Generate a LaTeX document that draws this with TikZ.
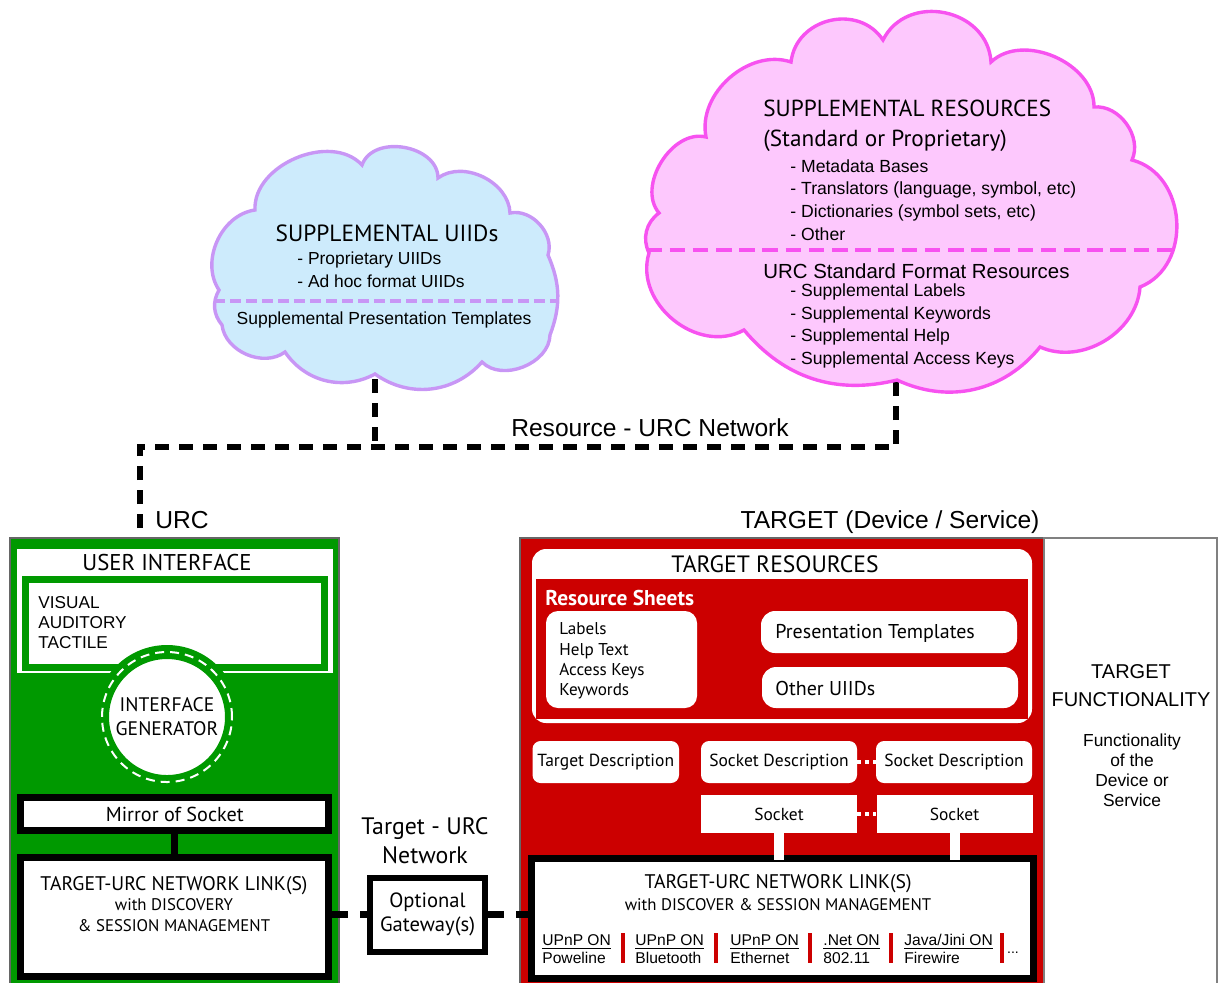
\documentclass[tikz,border=0pt]{standalone}
\usepackage{fontspec}
\newfontfamily\myr{PT Sans}
\newfontfamily\ari{Liberation Sans}
\usetikzlibrary{calc,positioning}
\definecolor{urcgreen}{RGB}{0,153,0}
\definecolor{tgtred}{RGB}{204,0,0}
\definecolor{uiidfill}{RGB}{205,235,252}
\definecolor{uiidline}{RGB}{200,150,245}
\definecolor{resfill}{RGB}{253,200,253}
\definecolor{resline}{RGB}{247,82,240}
\tikzset{
  myrf/.style 2 args={font={\myr\fontsize{#1}{#2}\selectfont}, inner sep=0pt},
  arif/.style 2 args={font={\ari\fontsize{#1}{#2}\selectfont}, inner sep=0pt},
  box/.style={draw=black, line width=3.5pt, fill=white, inner sep=0pt},
  rbox/.style={fill=white, rounded corners=#1, inner sep=0pt},
  rbox/.default=4pt,
  puff/.style={bend left=#1},
  resdash/.style={line width=3pt, dash pattern=on 7pt off 5pt},
  netdash/.style={line width=3.5pt, dash pattern=on 8pt off 6pt},
  wdots/.style={white, line width=2pt, dash pattern=on 2pt off 2pt},
  link/.style={white, line width=5pt},
  bg/.style={draw=black!60, line width=.6pt, inner sep=0pt, minimum height=224pt}
}
\begin{document}
\begin{tikzpicture}[x=0.5pt,y=-0.5pt]
\useasboundingbox (0,0) rectangle (1218,982);

% resource network
\coordinate (junc) at (140,447);
\coordinate (urcend) at (140,528);
\coordinate (ufoot) at (375,355);
\coordinate (rfoot) at (896,360);
\draw[resdash] (urcend) -- (junc) -| (rfoot);
\draw[resdash] (ufoot) -- (ufoot |- junc);

% clouds
\draw[uiidline, fill=uiidfill, line width=1.7pt,
  path picture={\draw[uiidline, line width=2pt, dash pattern=on 5.5pt off 2.5pt] (150,301) -- (650,301);}]
  (219,290) to[puff=58] (255,210) to[puff=70] (362,165) to[puff=80, looseness=1.1] (438,178)
  to[puff=62] (510,213) to[puff=60] (548,255) to[puff=22] (550,335) to[puff=67] (482,362)
  to[puff=42] (375,374) to[puff=42] (285,352) to[puff=60] (222,325) to[puff=35] (219,290) -- cycle;
\draw[resline, fill=resfill, line width=1.7pt,
  path picture={\draw[resline, line width=2pt, dash pattern=on 7.8pt off 3.8pt] (600,250) -- (1200,250);}]
  (659,213) to[puff=72] (706,137) to[puff=60] (791,62) to[puff=70, looseness=1.2] (883,40)
  to[puff=75, looseness=1.25] (991,62) to[puff=67] (1094,107) to[puff=60] (1132,160)
  to[puff=72, looseness=1.15] (1140,287) to[puff=55] (1040,347) to[puff=38] (897,380)
  to[puff=32] (744,330) to[puff=68, looseness=1.1] (649,253) to[puff=40] (659,213) -- cycle;

\node[myrf={11.7}{13}] (uiidtitle) at (387,233) {SUPPLEMENTAL UIIDs};
\node[arif={8.7}{11.5}, align=left, anchor=west] (uiidlist) at (297,269.5) {- Proprietary UIIDs\\- Ad hoc format UIIDs};
\node[arif={8.75}{10}] (uiidpt) at (384,320) {Supplemental Presentation Templates};

\node[myrf={11.6}{15}, align=left, anchor=west] (restitle) at (763,126) {SUPPLEMENTAL RESOURCES\\(Standard or Proprietary)};
\node[arif={8.8}{11.35}, align=left, anchor=west] (reslist) at (790,200)
  {- Metadata Bases\\- Translators (language, symbol, etc)\\- Dictionaries (symbol sets, etc)\\- Other};
\node[arif={10.2}{12}, anchor=west] (urcfmt) at (763,271) {URC Standard Format Resources};
\node[arif={8.8}{11.35}, align=left, anchor=west] (fmtlist) at (790,326)
  {- Supplemental Labels\\- Supplemental Keywords\\- Supplemental Help\\- Supplemental Access Keys};

\node[arif={12.3}{14}] (resnet) at (650,428) {Resource - URC Network};
\node[arif={12.3}{14}, anchor=west] (urclab) at (155,520) {URC};
\node[arif={12.3}{14}] (tgtlab) at (890,522) {TARGET (Device / Service)};

% URC
\node (urc) [bg, fill=urcgreen, minimum width=164.5pt] at (174.5,762) {};
\node (ui) [fill=white, minimum width=158pt, minimum height=62pt, inner sep=0pt] at (175,611) {};
\node[myrf={11.4}{13}] (uititle) at (167,563) {USER INTERFACE};
\node (modes) [draw=urcgreen, line width=3.5pt, fill=white, minimum width=149.5pt, minimum height=44pt, inner sep=0pt] at (175,623) {};
\node[arif={8.6}{10}, align=left, anchor=west] (modetxt) at (38,623) {VISUAL\\AUDITORY\\TACTILE};
\node (gen) [circle, fill=white, draw=urcgreen, line width=7pt, minimum size=65pt, myrf={9.8}{12}, align=center] at (167,717) {INTERFACE\\GENERATOR};
\draw[white, line width=1pt, dash pattern=on 4.5pt off 3pt] (gen.center) circle (32.5pt);

\node (mirror) [box, myrf={10.1}{12}, minimum width=154pt, minimum height=16.5pt] at (174.75,814) {Mirror of Socket};
\node (ulink) [box, minimum width=154pt, minimum height=59.5pt] at (174.75,917) {};
\node[myrf={8.4}{10.25}, align=center] (ulinktxt) at (174,904)
  {{\fontsize{9.85}{10.25}\selectfont TARGET-URC NETWORK LINK(S)}\\with DISCOVERY\\\& SESSION MANAGEMENT};
\draw[line width=3.5pt] (mirror.south) -- (ulink.north);

% gateway
\node (gw) [box, line width=3pt, myrf={10.3}{12}, align=center, minimum width=57.5pt, minimum height=37pt] at (427.5,914.5) {Optional\\Gateway(s)};
\node[myrf={11.9}{14.5}, align=center] (tunet) at (425,841) {Target - URC\\Network};

% target
\node (tgt) [bg, fill=tgtred, minimum width=262pt] at (782,762) {};
\node (func) [bg, fill=white, draw=black!50, minimum width=86.5pt] at (1130.5,762) {};
\node[arif={10}{14}, align=center] (functitle) at (1131,686) {TARGET\\FUNCTIONALITY};
\node[arif={8.7}{10}, align=center] (functxt) at (1132,770) {Functionality\\of the\\Device or\\Service};

\node (tres) [rbox=7pt, minimum width=250pt, minimum height=87pt] at (782,636) {};
\node[myrf={11.8}{13}] (trestitle) at (775,564) {TARGET RESOURCES};
\node (sheets) [fill=tgtred, minimum width=246pt, minimum height=70pt, inner sep=0pt] at (782,649) {};
\node[anchor=west, inner sep=0pt, font={\myr\bfseries\fontsize{10.7}{12}\selectfont}, text=white] (sheetstitle) at (545,598) {Resource Sheets};
\node (labels) [rbox=6pt, minimum width=75.5pt, minimum height=48.5pt] at (621.5,659.5) {};
\node[myrf={8.55}{10.2}, align=left, anchor=west] (labeltxt) at (559,661) {Labels\\Help Text\\Access Keys\\Keywords};
\node (ptempl) [rbox=7pt, minimum width=128pt, minimum height=21pt] at (889,632) {};
\node[myrf={10}{12}, anchor=west] (ptempltxt) at (775,633) {Presentation Templates};
\node (ouiid) [rbox=7pt, minimum width=128pt, minimum height=20.5pt] at (890,687.5) {};
\node[myrf={10}{12}, anchor=west] (ouiidtxt) at (775,688) {Other UIIDs};

\node (tdesc) [rbox, myrf={8.75}{11}, minimum width=73.25pt, minimum height=21pt] at (605.75,762) {Target Description};
\node (sdesc1) [rbox, myrf={8.75}{11}, minimum width=78pt, minimum height=21pt] at (779,762) {Socket Description};
\node (sdesc2) [rbox, myrf={8.75}{11}, minimum width=78pt, minimum height=21pt] at (954,762) {Socket Description};
\node (sock1) [fill=white, myrf={8.7}{11}, minimum width=78pt, minimum height=19pt] at (779,814) {Socket};
\node (sock2) [fill=white, myrf={8.7}{11}, minimum width=78pt, minimum height=19pt] at (954.5,814) {Socket};
\draw[wdots] (sdesc1) -- (sdesc2);
\draw[wdots] (sock1) -- (sock2);

\node (tlink) [box, minimum width=250.85pt, minimum height=59.75pt] at (782.65,918.25) {};
\draw[link] (sock1.south) -- ([yshift=-2.5pt]sock1.south |- tlink.north);
\draw[link] (sock2.south) -- ([yshift=-2.5pt]sock2.south |- tlink.north);
\draw[netdash] (ulink.east |- gw.west) -- (gw.west);
\draw[netdash] (gw.east) -- (gw.east -| tlink.west);

\node[myrf={9.85}{11}] (tlinktitle) at (778,884) {TARGET-URC NETWORK LINK(S)};
\node[myrf={8.4}{11}] (tlinksub) at (778,905) {with DISCOVER \& SESSION MANAGEMENT};
\foreach \x/\a/\b [count=\i] in {542/UPnP ON/Poweline, 635/UPnP ON/Bluetooth, 730/UPnP ON/Ethernet,
    823/.Net ON/802.11, 904/{Java/Jini ON}/Firewire}
  \node[arif={7.8}{9}, align=left, anchor=west] (proto\i) at (\x,949) {\underline{\a}\\\b};
\foreach \x in {622.7,716,810,891.4,1002}
  \draw[tgtred, line width=2pt] (\x,933) -- (\x,963);
\node[arif={7}{9}] (more) at (1013,953) {...};
\end{tikzpicture}
\end{document}
